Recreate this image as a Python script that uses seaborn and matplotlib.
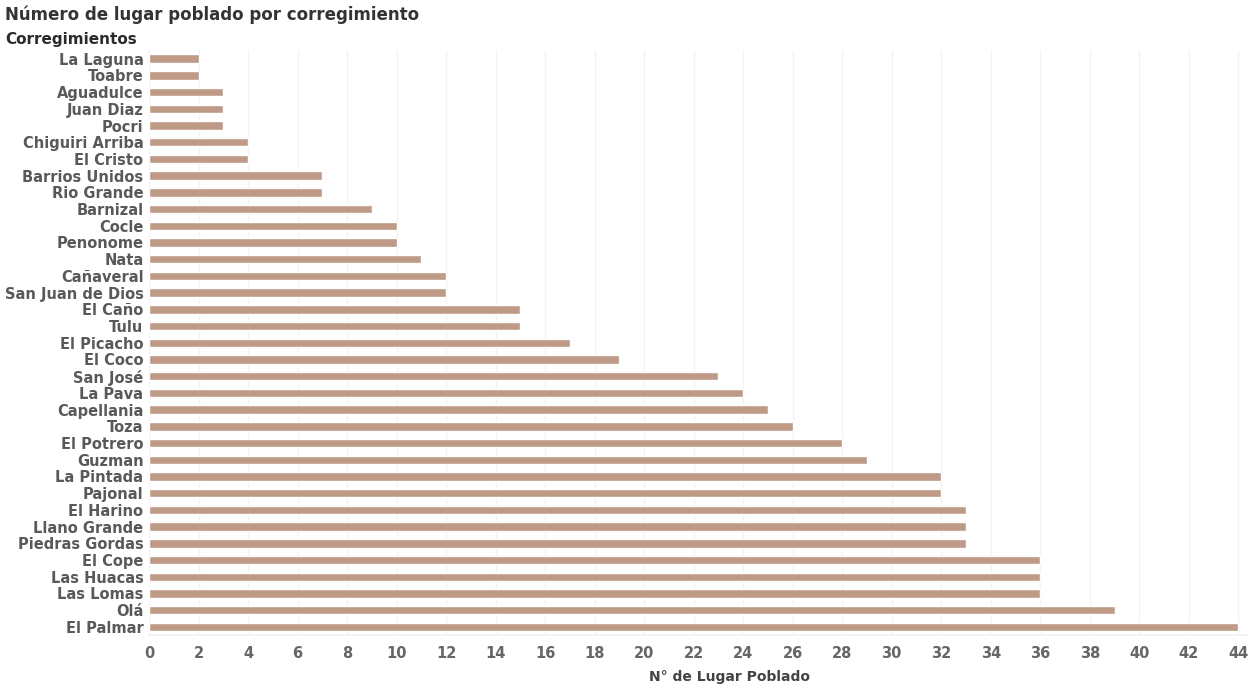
import matplotlib
matplotlib.use("Agg")
import matplotlib.pyplot as plt
import seaborn as sns
import pandas as pd

corregimientos = [
    "La Laguna", "Toabre", "Aguadulce", "Juan Diaz", "Pocri", "Chiguiri Arriba",
    "El Cristo", "Barrios Unidos", "Rio Grande", "Barnizal", "Cocle", "Penonome",
    "Nata", "Cañaveral", "San Juan de Dios", "El Caño", "Tulu", "El Picacho",
    "El Coco", "San José", "La Pava", "Capellania", "Toza", "El Potrero",
    "Guzman", "La Pintada", "Pajonal", "El Harino", "Llano Grande",
    "Piedras Gordas", "El Cope", "Las Huacas", "Las Lomas", "Olá", "El Palmar",
]
lugares = [
    2, 2, 3, 3, 3, 4,
    4, 7, 7, 9, 10, 10,
    11, 12, 12, 15, 15, 17,
    19, 23, 24, 25, 26, 28,
    29, 32, 32, 33, 33,
    33, 36, 36, 36, 39, 44,
]
x_ticks = list(range(0, 45, 2))

df = pd.DataFrame({"Corregimiento": corregimientos, "Lugares": lugares})

sns.set_theme(style="white")
plt.rcParams["font.family"] = ["DejaVu Sans"]

fig = plt.figure(figsize=(12.52, 6.89), dpi=100)
ax = fig.add_axes([0.119, 0.078, 0.878, 0.849])

sns.barplot(data=df, y="Corregimiento", x="Lugares", orient="h",
            color="#BF9A86", saturation=1, width=0.5, ax=ax)

ax.set_xlim(0, 44.4)
ax.set_xticks(x_ticks)
ax.set_xticklabels([str(t) for t in x_ticks])
ax.xaxis.grid(True, color="#f3f3f3", linewidth=1)
ax.set_axisbelow(True)

for s in ["top", "right", "left"]:
    ax.spines[s].set_visible(False)
ax.spines["bottom"].set_color("#f3f3f3")

ax.tick_params(axis="both", length=0)
ax.tick_params(axis="y", pad=4)
ax.tick_params(axis="x", pad=8)
for lbl in ax.get_yticklabels():
    lbl.set_fontsize(10.5)
    lbl.set_fontweight("bold")
    lbl.set_color("#595959")
for lbl in ax.get_xticklabels():
    lbl.set_fontsize(10.5)
    lbl.set_fontweight("bold")
    lbl.set_color("#666666")

ax.set_ylabel("")
ax.set_xlabel("")

fig.text(0.583, 0.0174, "N° de Lugar Poblado", ha="center", va="center",
         fontsize=10, fontweight="bold", color="#444444")
fig.text(0.004, 0.992, "Número de lugar poblado por corregimiento", ha="left",
         va="top", fontsize=12, fontweight="bold", color="#333333")
fig.text(0.004, 0.953, "Corregimientos", ha="left", va="top",
         fontsize=11, fontweight="bold", color="#2a2a2a")

fig.savefig("out.png", dpi=100)
